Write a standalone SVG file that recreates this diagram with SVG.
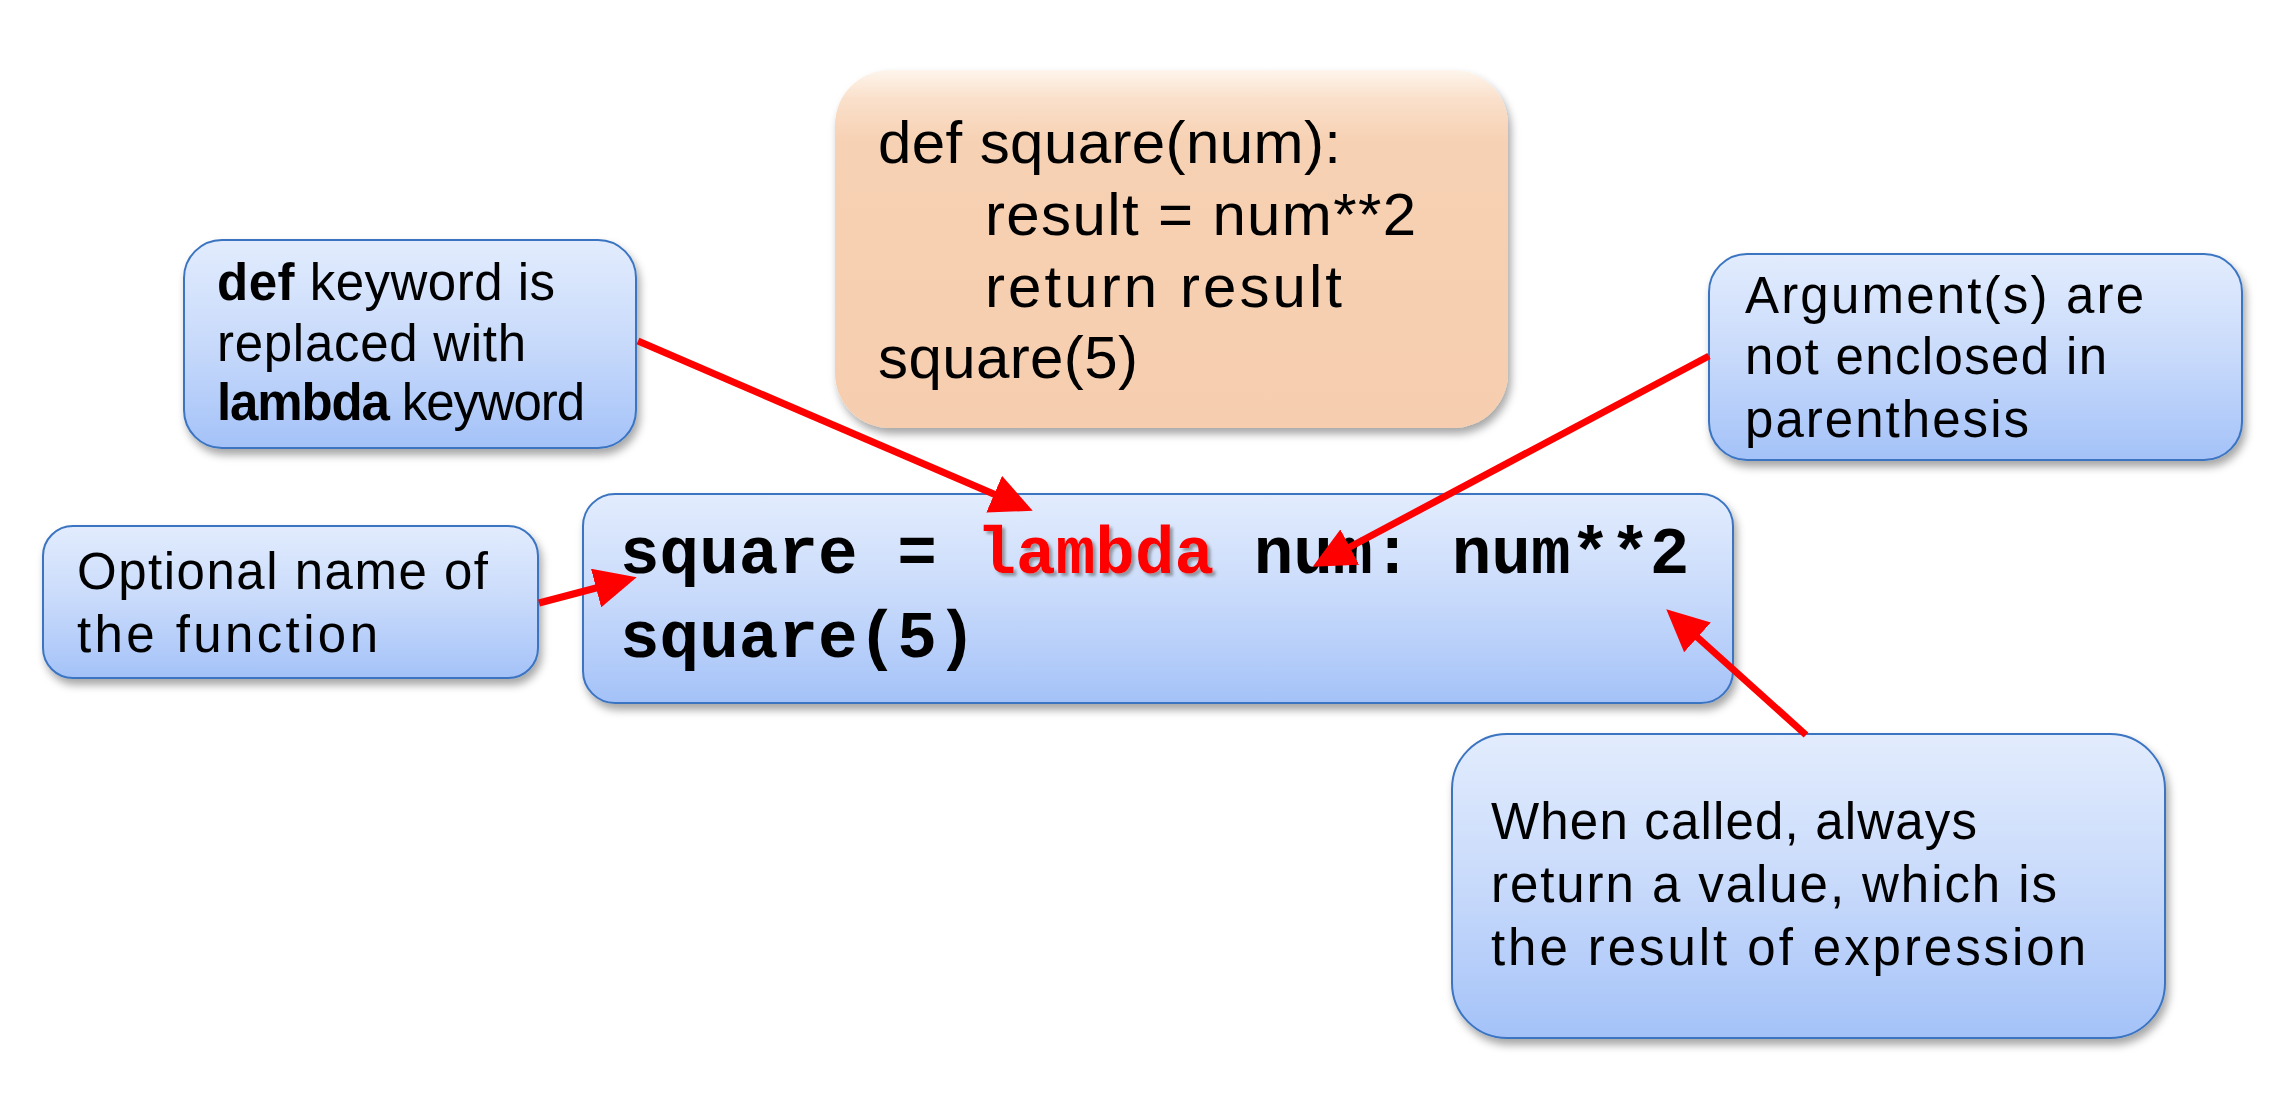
<svg xmlns="http://www.w3.org/2000/svg" width="2290" height="1098" viewBox="0 0 2290 1098">
<style>
.blue{fill:url(#gBlue);stroke:#3B74C2;stroke-width:2;filter:url(#shadow)}
.peach{fill:url(#gPeach);filter:url(#shadow)}
.note{font-family:"Comic Sans MS","Liberation Sans",sans-serif;font-size:51px;fill:#000}
.peachtxt{font-family:"Comic Sans MS","Liberation Sans",sans-serif;font-size:60px;fill:#000}
.code{font-family:"Courier New","Liberation Mono",monospace;font-size:66px;font-weight:bold;fill:#000}
.kw{fill:#FF0000;filter:url(#tshadow)}
.b{font-weight:bold}
.conn{stroke:#FF0000;stroke-width:7;fill:none;marker-end:url(#head)}
</style>
<defs>
<linearGradient id="gBlue" x1="0" y1="0" x2="0" y2="1">
<stop offset="0" stop-color="#E2ECFD"/>
<stop offset="0.5" stop-color="#C8DAFB"/>
<stop offset="1" stop-color="#A4C2F8"/>
</linearGradient>
<linearGradient id="gPeach" x1="0" y1="0" x2="0" y2="1">
<stop offset="0" stop-color="#FEF5EC"/>
<stop offset="0.08" stop-color="#FAE0CB"/>
<stop offset="0.2" stop-color="#F7D1B3"/>
<stop offset="1" stop-color="#F6CEAF"/>
</linearGradient>
<filter id="shadow" x="-10%" y="-10%" width="125%" height="130%">
<feDropShadow dx="3" dy="6" stdDeviation="4" flood-color="#000" flood-opacity="0.35"/>
</filter>
<filter id="tshadow" x="-10%" y="-20%" width="130%" height="150%">
<feDropShadow dx="3" dy="3" stdDeviation="1.5" flood-color="#666" flood-opacity="0.6"/>
</filter>
<marker id="head" viewBox="0 -20 42 40" markerWidth="42" markerHeight="40" refX="2" refY="0" orient="auto" markerUnits="userSpaceOnUse">
<path d="M0,-20 L42,0 L0,20 Z" fill="#FF0000"/>
</marker>
</defs>

<g id="node-peach">
<rect class="peach" x="835" y="70" width="673" height="358" rx="55" ry="55"/>
<text class="peachtxt" x="878" y="163" textLength="463">def square(num):</text>
<text class="peachtxt" x="985" y="235" textLength="431">result = num**2</text>
<text class="peachtxt" x="985" y="307" textLength="357">return result</text>
<text class="peachtxt" x="878" y="378" textLength="260">square(5)</text>
</g>

<g id="node-def">
<rect class="blue" x="184" y="240" width="452" height="208" rx="38" ry="38"/>
<text class="note" x="217" y="300" textLength="338"><tspan class="b">def</tspan> keyword is</text>
<text class="note" x="217" y="361" textLength="309">replaced with</text>
<text class="note" x="217" y="420" textLength="368"><tspan class="b">lambda</tspan> keyword</text>
</g>

<g id="node-optional">
<rect class="blue" x="43" y="526" width="495" height="152" rx="30" ry="30"/>
<text class="note" x="77" y="589" textLength="411">Optional name of</text>
<text class="note" x="77" y="652" textLength="301">the function</text>
</g>

<g id="node-lambda">
<rect class="blue" x="583" y="494" width="1150" height="209" rx="32" ry="32"/>
<text class="code" x="620" y="573">square = <tspan class="kw">lambda</tspan> num: num**2</text>
<text class="code" x="620" y="657">square(5)</text>
</g>

<g id="node-argument">
<rect class="blue" x="1709" y="254" width="533" height="206" rx="38" ry="38"/>
<text class="note" x="1745" y="313" textLength="399">Argument(s) are</text>
<text class="note" x="1745" y="374" textLength="362">not enclosed in</text>
<text class="note" x="1745" y="437" textLength="284">parenthesis</text>
</g>

<g id="node-when">
<rect class="blue" x="1452" y="734" width="713" height="304" rx="55" ry="55"/>
<text class="note" x="1491" y="839" textLength="486">When called, always</text>
<text class="note" x="1491" y="902" textLength="566">return a value, which is</text>
<text class="note" x="1491" y="965" textLength="595">the result of expression</text>
</g>

<g id="connectors">
<line class="conn" x1="638" y1="341" x2="996" y2="495"/>
<line class="conn" x1="539" y1="603" x2="598" y2="587.5"/>
<line class="conn" x1="1709" y1="356" x2="1348" y2="548"/>
<line class="conn" x1="1806" y1="735" x2="1696" y2="636"/>
</g>
</svg>
